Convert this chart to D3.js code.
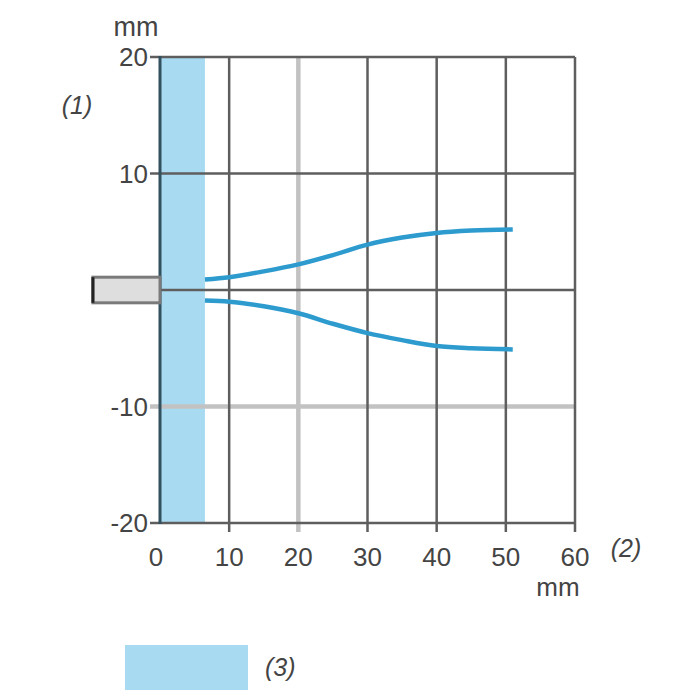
<!DOCTYPE html>
<html><head><meta charset="utf-8">
<script src="https://cdn.jsdelivr.net/npm/d3@7"></script>
<style>
html,body{margin:0;padding:0;background:#fff;}
text{font-family:"Liberation Sans",Arial,sans-serif;fill:#444;}
</style></head>
<body>
<svg id="c" width="700" height="700"></svg>
<script>
const xTicks = [0,10,20,30,40,50,60];
const yTicks = [20,10,0,-10,-20];
const yLabelTicks = [20,10,-10,-20];
const lightXGrid = [20];
const lightYGrid = [-10];
const bandRange = [0, 6.5];
const upperX = [6.5,10,15,20,25,30,35,40,45,51];
const upperY = [0.9,1.1,1.6,2.2,3.0,3.9,4.5,4.9,5.1,5.2];
const lowerX = [6.5,10,15,20,25,30,35,40,45,51];
const lowerY = [-0.9,-1.0,-1.4,-2.0,-2.9,-3.7,-4.3,-4.8,-5.0,-5.1];
const sensorX = [-9.7, 0];
const sensorY = [-1.1, 1.1];
const legendLabel = "(3)";

const svg = d3.select("#c");
const x = d3.scaleLinear().domain([0,60]).range([160,575]);
const y = d3.scaleLinear().domain([-20,20]).range([523,57]);
const blue = "#a8dbf2";
const dark = "#5e5e5e";
const light = "#c2c2c2";

svg.append("rect").attr("x", x(bandRange[0])).attr("y", y(20))
  .attr("width", x(bandRange[1]) - x(bandRange[0])).attr("height", y(-20) - y(20))
  .attr("fill", blue);

lightXGrid.forEach(v => svg.append("line").attr("x1", x(v)).attr("x2", x(v))
  .attr("y1", y(20)).attr("y2", y(-20) + 9).attr("stroke", light).attr("stroke-width", 4.5));
lightYGrid.forEach(v => svg.append("line").attr("x1", x(0) - 10).attr("x2", x(60))
  .attr("y1", y(v)).attr("y2", y(v)).attr("stroke", light).attr("stroke-width", 4.5));

xTicks.filter(v => v > 0 && !lightXGrid.includes(v)).forEach(v =>
  svg.append("line").attr("x1", x(v)).attr("x2", x(v))
    .attr("y1", y(20)).attr("y2", y(-20) + 9).attr("stroke", dark).attr("stroke-width", 2.5));
yTicks.filter(v => !lightYGrid.includes(v)).forEach(v =>
  svg.append("line").attr("x1", v === 0 ? x(0) : x(0) - 10).attr("x2", x(60))
    .attr("y1", y(v)).attr("y2", y(v)).attr("stroke", dark).attr("stroke-width", 2.5));
svg.append("line").attr("x1", x(0)).attr("x2", x(0)).attr("y1", y(20) - 1).attr("y2", y(-20) + 1)
  .attr("stroke", "#33505f").attr("stroke-width", 3);

svg.append("rect").attr("x", x(sensorX[0])).attr("y", y(sensorY[1]))
  .attr("width", x(sensorX[1]) - x(sensorX[0])).attr("height", y(sensorY[0]) - y(sensorY[1]))
  .attr("fill", "#dedede").attr("stroke", "#7a7a7a").attr("stroke-width", 3);
svg.append("line").attr("x1", x(sensorX[0])).attr("x2", x(sensorX[0]))
  .attr("y1", y(sensorY[1])).attr("y2", y(sensorY[0])).attr("stroke", "#222").attr("stroke-width", 3);

const line = d3.line().x(d => x(d[0])).y(d => y(d[1])).curve(d3.curveMonotoneX);
[[upperX, upperY], [lowerX, lowerY]].forEach(([xs, ys]) => {
  svg.append("path").datum(xs.map((v, i) => [v, ys[i]])).attr("d", line)
    .attr("fill", "none").attr("stroke", "#2e9bcf").attr("stroke-width", 4.5);
});

yLabelTicks.forEach(v => svg.append("text").attr("x", x(0) - 12).attr("y", y(v))
  .attr("text-anchor", "end").attr("dominant-baseline", "central")
  .attr("font-size", 26).text(v));
xTicks.forEach(v => svg.append("text").attr("x", v === 0 ? x(v) - 4 : x(v)).attr("y", 557)
  .attr("text-anchor", "middle").attr("dominant-baseline", "central")
  .attr("font-size", 26).text(v));

svg.append("text").attr("x", 136).attr("y", 27).attr("text-anchor", "middle")
  .attr("dominant-baseline", "central").attr("font-size", 27).text("mm");
svg.append("text").attr("x", 77).attr("y", 105).attr("text-anchor", "middle")
  .attr("dominant-baseline", "central").attr("font-size", 25).attr("font-style", "italic").text("(1)");
svg.append("text").attr("x", 626).attr("y", 548).attr("text-anchor", "middle")
  .attr("dominant-baseline", "central").attr("font-size", 25).attr("font-style", "italic").text("(2)");
svg.append("text").attr("x", 558).attr("y", 587).attr("text-anchor", "middle")
  .attr("dominant-baseline", "central").attr("font-size", 26).text("mm");

svg.append("rect").attr("x", 125).attr("y", 645).attr("width", 123).attr("height", 45).attr("fill", blue);
svg.append("text").attr("x", 265).attr("y", 667).attr("dominant-baseline", "central")
  .attr("font-size", 25).attr("font-style", "italic").text(legendLabel);
</script>
</body></html>
